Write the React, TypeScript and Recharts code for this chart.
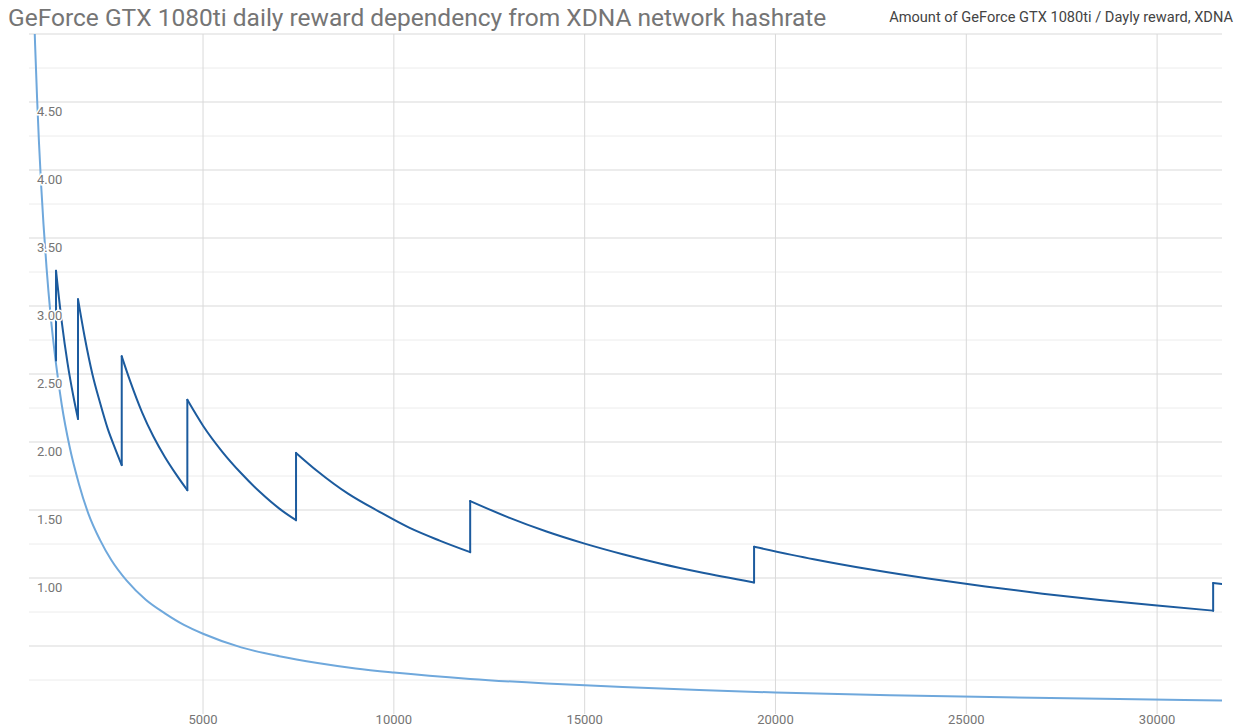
import { LineChart, Line, XAxis, YAxis, CartesianGrid, ReferenceLine } from 'recharts';

// GTX 1080ti daily reward vs XDNA network hashrate
const TITLE = 'GeForce GTX 1080ti daily reward dependency from XDNA network hashrate';
const LEGEND = 'Amount of GeForce GTX 1080ti / Dayly reward, XDNA';

const hashrateTicks = [5000, 10000, 15000, 20000, 25000, 30000];
const rewardLabels = [1, 1.5, 2, 2.5, 3, 3.5, 4, 4.5];
const majorLines = [0.5, 1, 1.5, 2, 2.5, 3, 3.5, 4, 4.5, 5];
const minorLines = [0.25, 0.75, 1.25, 1.75, 2.25, 2.75, 3.25, 3.75, 4.25, 4.75];

// light curve: amount of GPUs
const amountX = [560, 600, 650, 700, 760, 820, 900, 1000, 1150, 1300, 1500, 1750, 2000, 2300, 2600, 3000, 3500, 4000, 4500, 5000, 6000, 7000, 8000, 9000, 10000, 12000, 14000, 16000, 18000, 20000, 23000, 26000, 29000, 31700];
const amountY = [5.27, 4.92, 4.54, 4.21, 3.88, 3.6, 3.28, 2.95, 2.57, 2.27, 1.97, 1.69, 1.47, 1.28, 1.13, 0.98, 0.84, 0.74, 0.655, 0.59, 0.49, 0.425, 0.375, 0.335, 0.305, 0.258, 0.224, 0.198, 0.176, 0.158, 0.138, 0.123, 0.111, 0.099];

// dark curve: daily reward, one decaying segment between each jump
const rewardStart = 2.6;
const rewardX = [
  [1148, 1300, 1450, 1600, 1724],
  [1724, 1900, 2100, 2300, 2500, 2700, 2870],
  [2870, 3100, 3400, 3700, 4000, 4300, 4589],
  [4589, 5000, 5500, 6000, 6500, 7000, 7437],
  [7437, 8000, 8800, 9600, 10400, 11200, 12000],
  [12000, 13000, 14000, 15000, 16000, 17000, 18000, 19439],
  [19439, 21000, 22500, 24000, 25500, 27000, 28500, 30000, 31468],
  [31468, 31700],
];
const rewardY = [
  [3.26, 2.88, 2.58, 2.34, 2.17],
  [3.05, 2.77, 2.5, 2.29, 2.1, 1.95, 1.83],
  [2.63, 2.44, 2.22, 2.04, 1.89, 1.76, 1.645],
  [2.31, 2.12, 1.93, 1.77, 1.63, 1.51, 1.425],
  [1.92, 1.785, 1.62, 1.49, 1.37, 1.275, 1.19],
  [1.566, 1.446, 1.342, 1.253, 1.175, 1.105, 1.044, 0.967],
  [1.23, 1.138, 1.062, 0.996, 0.937, 0.885, 0.839, 0.797, 0.76],
  [0.963, 0.956],
];

const amountData = amountX.map((x, i) => ({ x, y: amountY[i] }));
const segmentData = rewardX.map((xs, s) => xs.map((x, i) => ({ x, y: rewardY[s][i] })));

// vertical jumps between segments, broken apart with nulls
const jumpData: { x: number; y: number | null }[] = [];
rewardX.forEach((xs, s) => {
  const from = s === 0 ? rewardStart : rewardY[s - 1][rewardY[s - 1].length - 1];
  jumpData.push({ x: xs[0], y: from });
  jumpData.push({ x: xs[0], y: rewardY[s][0] });
  jumpData.push({ x: xs[0] + 1, y: null });
});

const FONT = 'Roboto, "Noto Sans", sans-serif';
const DARK = '#1c5b9e';

// y labels sit inside the plot, just under their grid line, over the lines
function makeRewardLabel(value: number) {
  return (props: any) => {
    const vb = props.viewBox || {};
    return (
      <text
        x={(vb.x ?? 28) + 8}
        y={(vb.y ?? 0) + 14}
        fill="#757575"
        fontSize={13}
        fontFamily={FONT}
        stroke="#fff"
        strokeWidth={3}
        paintOrder="stroke"
      >
        {value.toFixed(2)}
      </text>
    );
  };
}

export default function App() {
  return (
    <div
      style={{
        position: 'absolute',
        left: 0,
        top: 0,
        width: 1236,
        height: 727,
        background: '#fff',
        fontFamily: FONT,
      }}
    >
      <div
        style={{
          position: 'absolute',
          left: 8,
          top: 3,
          fontSize: 24.5,
          color: '#757575',
          whiteSpace: 'nowrap',
          lineHeight: '30px',
        }}
      >
        {TITLE}
      </div>
      <div
        style={{
          position: 'absolute',
          right: 3,
          top: 8,
          fontSize: 14.6,
          color: '#444',
          whiteSpace: 'nowrap',
          lineHeight: '18px',
        }}
      >
        {LEGEND}
      </div>
      <LineChart
        width={1236}
        height={727}
        margin={{ top: 34, right: 14, left: 28, bottom: 0 }}
        style={{ position: 'absolute', left: 0, top: 0 }}
      >
        <CartesianGrid
          horizontalValues={minorLines}
          vertical={false}
          stroke="#ececec"
        />
        <CartesianGrid
          horizontalValues={majorLines}
          verticalValues={hashrateTicks}
          stroke="#d9d9d9"
        />
        <XAxis
          dataKey="x"
          type="number"
          domain={[440, 31700]}
          ticks={hashrateTicks}
          allowDataOverflow
          height={13}
          axisLine={false}
          tickLine={false}
          tickSize={0}
          tickMargin={1}
          tick={{ fill: '#757575', fontSize: 13, fontFamily: FONT }}
        />
        <YAxis
          type="number"
          domain={[0, 5]}
          ticks={rewardLabels}
          allowDataOverflow
          width={1}
          axisLine={false}
          tickLine={false}
          tick={() => <g />}
        />
        <Line
          data={amountData}
          dataKey="y"
          type="monotone"
          stroke="#6fa8dc"
          strokeWidth={2}
          dot={false}
          isAnimationActive={false}
        />
        {segmentData.map((seg, i) => (
          <Line
            key={i}
            data={seg}
            dataKey="y"
            type="monotone"
            stroke={DARK}
            strokeWidth={2}
            strokeLinecap="round"
            dot={false}
            isAnimationActive={false}
          />
        ))}
        <Line
          data={jumpData}
          dataKey="y"
          type="linear"
          stroke={DARK}
          strokeWidth={2}
          strokeLinecap="round"
          connectNulls={false}
          dot={false}
          isAnimationActive={false}
        />
        {rewardLabels.map((v) => (
          <ReferenceLine
            key={v}
            y={v}
            stroke="none"
            label={makeRewardLabel(v)}
          />
        ))}
      </LineChart>
    </div>
  );
}
